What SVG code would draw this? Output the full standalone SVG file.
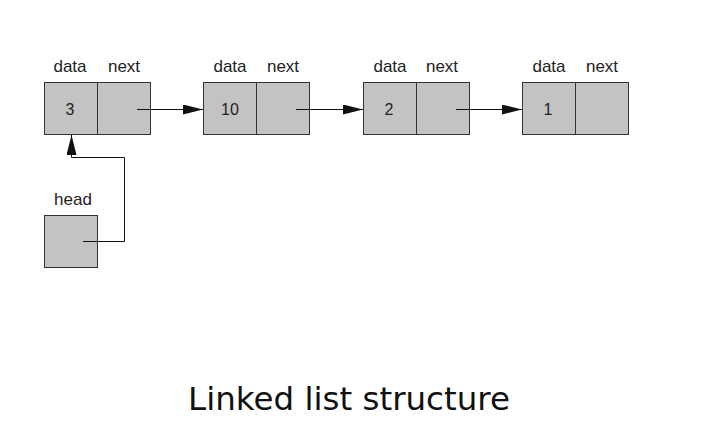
<svg xmlns="http://www.w3.org/2000/svg" width="703" height="430" viewBox="0 0 703 430">
<style>
.cell{fill:#c3c3c3;stroke:#333;stroke-width:1}
.lbl{font-family:"Liberation Sans",Arial,sans-serif;font-size:17px;fill:#222;text-anchor:middle}
.val{font-family:"Liberation Sans",Arial,sans-serif;font-size:16px;fill:#222;text-anchor:middle}
.link{fill:none;stroke:#111;stroke-width:1}
.title{font-family:"DejaVu Sans",Verdana,sans-serif;font-size:32.5px;fill:#111;text-anchor:middle}
</style>
<defs>
<marker id="ah" viewBox="0 0 20 10" refX="20" refY="5" markerWidth="20" markerHeight="10" markerUnits="userSpaceOnUse" orient="auto">
<path d="M0,0 L20,5 L0,10 Z" fill="#111"/>
</marker>
</defs>
<rect width="703" height="430" fill="#fff"/>
<g id="node1">
<rect class="cell" x="44.5" y="82.5" width="53" height="52"/>
<rect class="cell" x="97.5" y="82.5" width="53" height="52"/>
<text class="lbl" x="70" y="72">data</text>
<text class="lbl" x="124" y="72">next</text>
<text class="val" x="70" y="115">3</text>
</g>
<g id="node2">
<rect class="cell" x="203.5" y="82.5" width="53" height="52"/>
<rect class="cell" x="256.5" y="82.5" width="53" height="52"/>
<text class="lbl" x="230" y="72">data</text>
<text class="lbl" x="283" y="72">next</text>
<text class="val" x="230" y="115">10</text>
</g>
<g id="node3">
<rect class="cell" x="363.5" y="82.5" width="53" height="52"/>
<rect class="cell" x="416.5" y="82.5" width="53" height="52"/>
<text class="lbl" x="390" y="72">data</text>
<text class="lbl" x="442" y="72">next</text>
<text class="val" x="389" y="115">2</text>
</g>
<g id="node4">
<rect class="cell" x="522.5" y="82.5" width="53" height="52"/>
<rect class="cell" x="575.5" y="82.5" width="53" height="52"/>
<text class="lbl" x="549" y="72">data</text>
<text class="lbl" x="602" y="72">next</text>
<text class="val" x="548" y="115">1</text>
</g>
<g id="head">
<rect class="cell" x="44.5" y="215.5" width="53" height="52"/>
<text class="lbl" x="73" y="205">head</text>
</g>
<g id="connectors">
<line class="link" x1="137" y1="109.5" x2="203" y2="109.5" marker-end="url(#ah)"/>
<line class="link" x1="296" y1="109.5" x2="363" y2="109.5" marker-end="url(#ah)"/>
<line class="link" x1="456" y1="109.5" x2="522" y2="109.5" marker-end="url(#ah)"/>
<polyline class="link" points="83,241.5 124.5,241.5 124.5,157.5 71.5,157.5 71.5,135" marker-end="url(#ah)"/>
</g>
<text class="title" x="349" y="410">Linked list structure</text>
</svg>
